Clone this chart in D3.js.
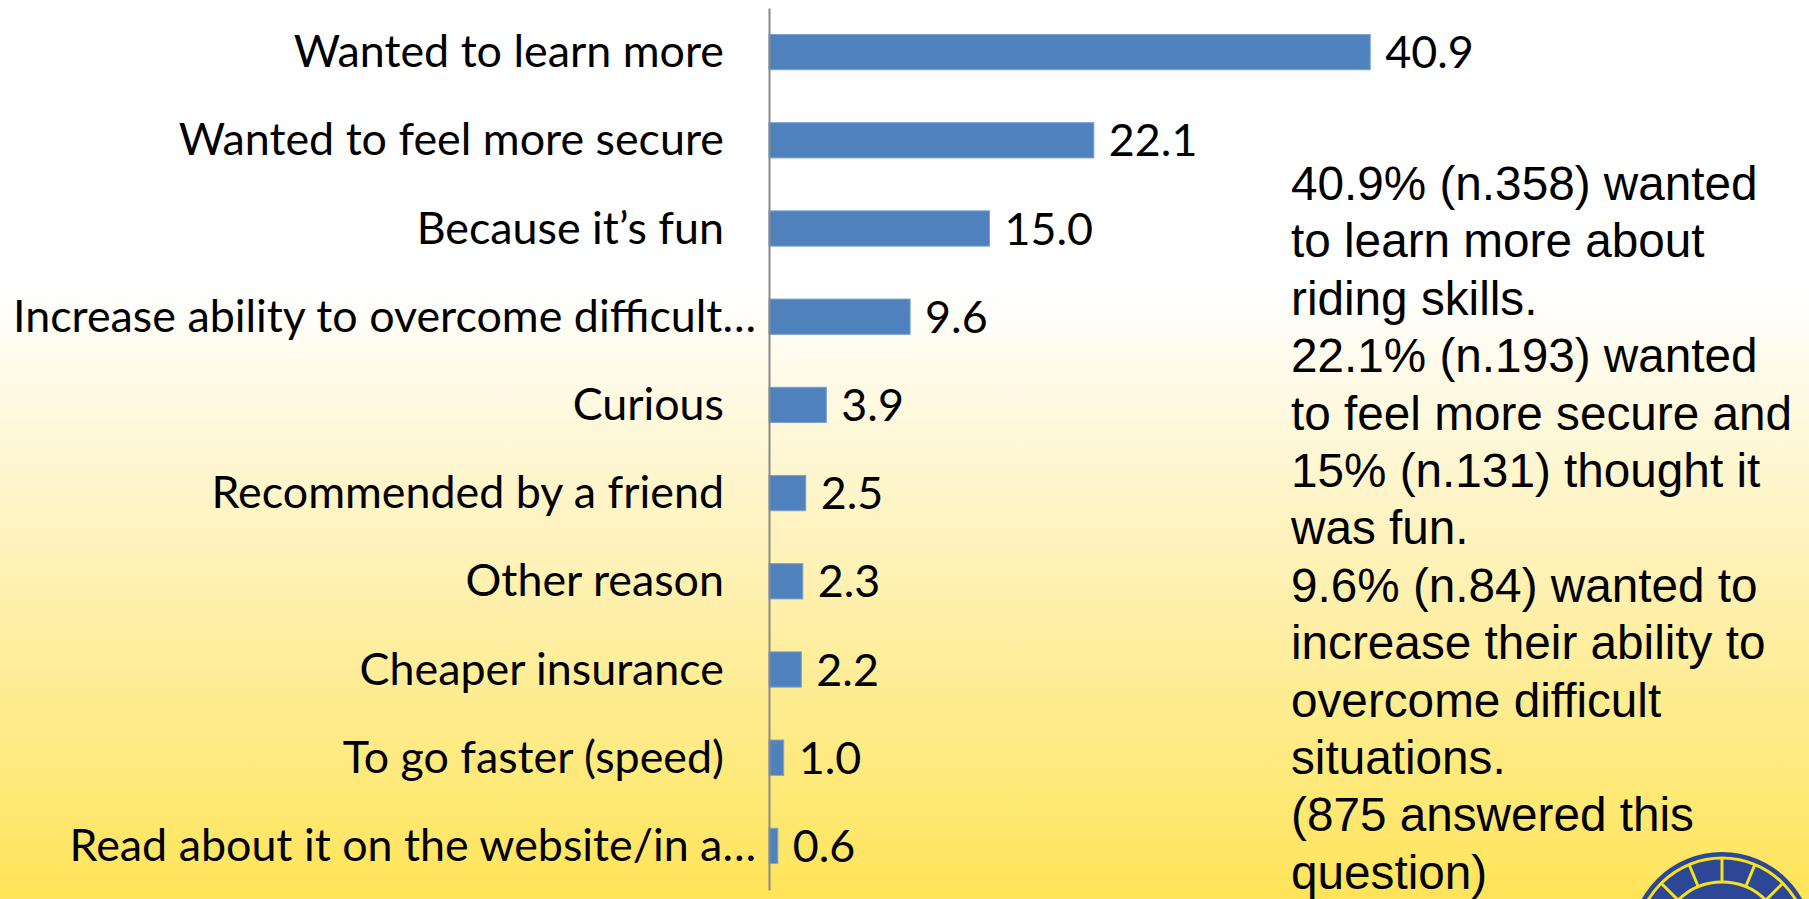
<!DOCTYPE html>
<html>
<head>
<meta charset="utf-8">
<script src="https://cdn.jsdelivr.net/npm/d3@7"></script>
<style>
  html, body { margin: 0; padding: 0; overflow: hidden; }
  svg { display: block; }
  .cat, .val { font-family: Lato, "Open Sans", sans-serif; font-size: 44.8px; fill: #000; }
  .note { font-family: "Liberation Sans", Arial, sans-serif; font-size: 47.7px; fill: #000; }
</style>
</head>
<body>
<svg id="chart" width="1809" height="899"></svg>
<script>
// survey reasons, top to bottom
const categories = [
  'Wanted to learn more',
  'Wanted to feel more secure',
  'Because it’s fun',
  'Increase ability to overcome difficult…',
  'Curious',
  'Recommended by a friend',
  'Other reason',
  'Cheaper insurance',
  'To go faster (speed)',
  'Read about it on the website/in a…'
];
const percents = [40.9, 22.1, 15.0, 9.6, 3.9, 2.5, 2.3, 2.2, 1.0, 0.6];

const noteLines = [
  '40.9% (n.358) wanted',
  'to learn more about',
  'riding skills.',
  '22.1% (n.193) wanted',
  'to feel more secure and',
  '15% (n.131) thought it',
  'was fun.',
  '9.6% (n.84) wanted to',
  'increase their ability to',
  'overcome difficult',
  'situations.',
  '(875 answered this',
  'question)'
];

const width = 1809, height = 899;
const axisX = 769;

const svg = d3.select('#chart');

// slide background: white fading into yellow
const defs = svg.append('defs');
const grad = defs.append('linearGradient')
  .attr('id', 'bg').attr('x1', 0).attr('y1', 0).attr('x2', 0).attr('y2', 1);
grad.append('stop').attr('offset', '0%').attr('stop-color', '#ffffff');
grad.append('stop').attr('offset', '32%').attr('stop-color', '#ffffff');
grad.append('stop').attr('offset', '62%').attr('stop-color', '#fef2b8');
grad.append('stop').attr('offset', '100%').attr('stop-color', '#ffe459');
svg.append('rect')
  .attr('width', width).attr('height', height)
  .attr('fill', 'url(#bg)');

const x = d3.scaleLinear()
  .domain([0, 45])
  .range([axisX, 1430.5]);

const y = d3.scaleBand()
  .domain(categories)
  .range([8, 890])
  .paddingInner(0.6)
  .paddingOuter(0.3);

const data = categories.map((c, i) => ({ cat: c, val: percents[i] }));

// bars
svg.append('g').selectAll('rect')
  .data(data)
  .join('rect')
  .attr('x', x(0))
  .attr('y', d => y(d.cat))
  .attr('width', d => x(d.val) - x(0))
  .attr('height', y.bandwidth())
  .attr('fill', '#4f81bd')
  .attr('stroke', '#7aa3d6')
  .attr('stroke-width', 1);

// category axis, no ticks
const yAxis = svg.append('g')
  .attr('transform', `translate(${axisX},0)`)
  .call(d3.axisLeft(y).tickSize(0).tickSizeOuter(0).tickFormat(''));
yAxis.select('.domain').attr('stroke', '#8a8a8a').attr('stroke-width', 2);
yAxis.selectAll('.tick').remove();

// category labels (the clipped ones sit closer to the axis)
svg.append('g').selectAll('text')
  .data(data)
  .join('text')
  .attr('class', 'cat')
  .attr('text-anchor', 'end')
  .attr('x', d => d.cat.endsWith('…') ? axisX - 13 : axisX - 45)
  .attr('y', d => y(d.cat) + y.bandwidth() / 2 + 15)
  .text(d => d.cat);

// value labels
svg.append('g').selectAll('text')
  .data(data)
  .join('text')
  .attr('class', 'val')
  .attr('x', d => x(d.val) + 15)
  .attr('y', d => y(d.cat) + y.bandwidth() / 2 + 16)
  .text(d => d3.format('.1f')(d.val));

// note text on the right
svg.append('text')
  .attr('class', 'note')
  .selectAll('tspan')
  .data(noteLines)
  .join('tspan')
  .attr('x', 1291)
  .attr('y', (d, i) => 200 + i * 57.4)
  .text(d => d);

// logo, mostly below the slide edge
const logo = svg.append('g').attr('transform', 'translate(1722,944)');
const blue = '#2b4795', yellow = '#f7e21c';
logo.append('circle').attr('r', 92).attr('fill', blue);
logo.append('circle').attr('r', 86).attr('fill', 'none').attr('stroke', yellow).attr('stroke-width', 3);
logo.append('g').selectAll('line')
  .data(d3.range(0, 360, 22.5))
  .join('line')
  .attr('x1', a => 62 * Math.cos(a * Math.PI / 180))
  .attr('y1', a => 62 * Math.sin(a * Math.PI / 180))
  .attr('x2', a => 86 * Math.cos(a * Math.PI / 180))
  .attr('y2', a => 86 * Math.sin(a * Math.PI / 180))
  .attr('stroke', yellow).attr('stroke-width', 3);
logo.append('circle').attr('r', 62).attr('fill', blue).attr('stroke', yellow).attr('stroke-width', 3);
logo.append('circle').attr('r', 44).attr('fill', yellow);
logo.append('circle').attr('r', 38).attr('fill', blue);
logo.append('g').selectAll('line')
  .data(d3.range(0, 360, 45))
  .join('line')
  .attr('x1', a => 18 * Math.cos(a * Math.PI / 180))
  .attr('y1', a => 18 * Math.sin(a * Math.PI / 180))
  .attr('x2', a => 38 * Math.cos(a * Math.PI / 180))
  .attr('y2', a => 38 * Math.sin(a * Math.PI / 180))
  .attr('stroke', yellow).attr('stroke-width', 4);
logo.append('circle').attr('r', 18).attr('fill', blue).attr('stroke', yellow).attr('stroke-width', 4);
logo.append('circle').attr('r', 8).attr('fill', yellow);
</script>
</body>
</html>
